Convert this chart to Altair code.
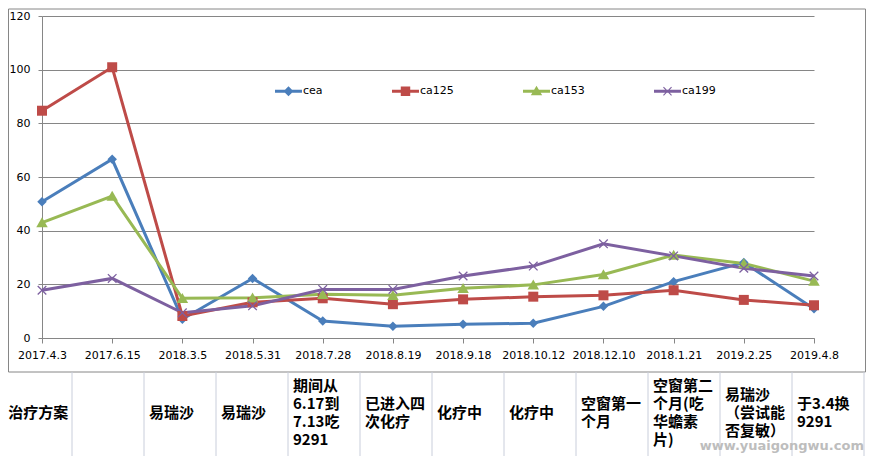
import altair as alt
import pandas as pd

# ---------------- data ----------------
dates = ["2017.4.3", "2017.6.15", "2018.3.5", "2018.5.31", "2018.7.28", "2018.8.19",
         "2018.9.18", "2018.10.12", "2018.12.10", "2018.1.21", "2019.2.25", "2019.4.8"]
series_names = ["cea", "ca125", "ca153", "ca199"]
cea = [50.8, 66.6, 7.0, 22.2, 6.3, 4.4, 5.1, 5.5, 11.8, 21.0, 28.1, 10.9]
ca125 = [84.7, 100.9, 8.2, 13.3, 14.8, 12.6, 14.4, 15.4, 15.9, 17.8, 14.2, 12.2]
ca153 = [43.0, 52.9, 14.8, 15.0, 16.3, 15.9, 18.5, 19.8, 23.7, 30.9, 27.8, 21.2]
ca199 = [17.8, 22.2, 9.4, 12.0, 18.1, 18.1, 23.1, 26.8, 35.1, 30.6, 26.0, 23.1]
y_ticks = [0, 20, 40, 60, 80, 100, 120]

table_header = "治疗方案"
table_cells = ["", "易瑞沙", "易瑞沙", "期间从\n6.17到\n7.13吃\n9291", "已进入四\n次化疗",
               "化疗中", "化疗中", "空窗第一\n个月", "空窗第二\n个月(吃\n华蟾素\n片)",
               "易瑞沙\n（尝试能\n否复敏）", "于3.4换\n9291"]
watermark = "www.yuaigongwu.com"

colors = ["#4A7EBB", "#BE4B48", "#98B954", "#7D60A0"]


# ---------------- marker paths ----------------
def xpath(h, e):
    pts = [(-h, -h + e), (-h + e, -h), (0, -e), (h - e, -h), (h, -h + e), (e, 0),
           (h, h - e), (h - e, h), (0, e), (-h + e, h), (-h, h - e), (-e, 0)]
    return "M" + "L".join(f"{x:.3f},{y:.3f}" for x, y in pts) + "Z"


marker_paths = [
    "M0,-0.95L0.95,0L0,0.95L-0.95,0Z",
    "M-1,-1L1,-1L1,1L-1,1Z",
    "M0,-1.05L1.15,0.95L-1.15,0.95Z",
    xpath(0.95, 0.18),
]
t = 0.11
line_part = f"M-1,{-t}L1,{-t}L1,{t}L-1,{t}Z"
legend_paths = [
    line_part + "M0,-0.37L0.37,0L0,0.37L-0.37,0Z",
    line_part + "M-0.35,-0.35L0.35,-0.35L0.35,0.35L-0.35,0.35Z",
    line_part + "M0,-0.4L0.42,0.3L-0.42,0.3Z",
    line_part + xpath(0.33, 0.06),
]

rows = []
for name, vals in zip(series_names, [cea, ca125, ca153, ca199]):
    for d, v in zip(dates, vals):
        rows.append({"date": d, "series": name, "value": v})
df = pd.DataFrame(rows)

table_df = pd.DataFrame({"col": list(range(12)), "text": [table_header] + table_cells})
rules_df = pd.DataFrame({"col": list(range(1, 13))})
one = pd.DataFrame({"a": [0]})

axis_font = "DejaVu Sans"
grey = "#868686"

X = alt.X("date:N", sort=dates, scale=alt.Scale(type="point", padding=0),
          axis=alt.Axis(title=None, labelAngle=0, grid=False, domainColor=grey, tickColor=grey,
                        tickSize=5, labelFont=axis_font, labelFontSize=11, labelColor="black",
                        labelPadding=6))
Y = alt.Y("value:Q", scale=alt.Scale(domain=[0, 120], nice=False),
          axis=alt.Axis(title=None, values=y_ticks, grid=True, gridColor=grey, gridWidth=1,
                        domainColor=grey, tickColor=grey, tickSize=4, labelFont=axis_font,
                        labelFontSize=11, labelColor="black", labelPadding=8))


def color_enc(legend):
    if legend is None:
        return alt.Color("series:N", scale=alt.Scale(domain=series_names, range=colors), legend=None)
    return alt.Color("series:N", scale=alt.Scale(domain=series_names, range=colors), legend=legend)


lines = alt.Chart(df).mark_line(strokeWidth=3).encode(x=X, y=Y, color=color_enc(None))

points = alt.Chart(df).mark_point(filled=True, size=100, strokeWidth=0, opacity=1).encode(
    x=X, y=Y, color=color_enc(None),
    shape=alt.Shape("series:N", scale=alt.Scale(domain=series_names, range=marker_paths), legend=None),
)

leg = alt.Legend(orient="none", legendX=233, legendY=61.5, direction="horizontal", columns=4,
                 title=None, symbolSize=729, symbolStrokeWidth=0, labelFont=axis_font,
                 labelFontSize=11, labelColor="black", labelOffset=1, columnPadding=69, padding=0)

ghost = alt.Chart(df).transform_filter("false").mark_point(filled=True, opacity=1, strokeWidth=0).encode(
    x=X, y=Y, color=color_enc(leg),
    shape=alt.Shape("series:N", scale=alt.Scale(domain=series_names, range=legend_paths), legend=leg),
)

main = alt.layer(lines, points, ghost).resolve_scale(color="independent", shape="independent")

TX = alt.X("col:Q", scale=alt.Scale(domain=[0, 12], range=[-42, 822], nice=False, zero=False), axis=None)
TXt = alt.X("colpos:Q", scale=alt.Scale(domain=[0, 12], range=[-42, 822], nice=False, zero=False), axis=None)

table_rules = alt.Chart(rules_df).mark_rule(color="#C9CEDB", strokeWidth=1).encode(
    x=TX, y=alt.value(356), y2=alt.value(441))
table_text = alt.Chart(table_df).transform_calculate(
    nlines="length(split(datum.text, '\\n'))",
    colpos="max(datum.col, 0.045)",
).transform_calculate(
    ypos="397 - (datum.nlines - 1) * 9"
).mark_text(
    align="left", baseline="middle", dx=5, font="Noto Sans CJK SC", fontSize=15,
    fontWeight="bold", lineBreak="\n", lineHeight=18, color="black").encode(
    x=TXt, y=alt.Y("ypos:Q", scale=None, axis=None), text="text:N")
table = alt.layer(table_rules, table_text)

frame = alt.Chart(one).mark_rect(fillOpacity=0, stroke=grey, strokeWidth=1).encode(
    x=alt.value(-33.5), x2=alt.value(823.5), y=alt.value(-7), y2=alt.value(356))

wm = alt.Chart(one).mark_text(align="right", baseline="middle", font="DejaVu Sans", fontSize=13,
                              fontWeight="bold", color="#BDBDBD", text=watermark).encode(
    x=alt.value(822), y=alt.value(430))

chart = alt.layer(frame, main, table, wm).resolve_scale(x="independent").properties(
    width=772, height=322, padding=0, background="white"
).configure_view(stroke=None)

chart.save("out.html", embed_options={"renderer": "svg", "actions": False})
